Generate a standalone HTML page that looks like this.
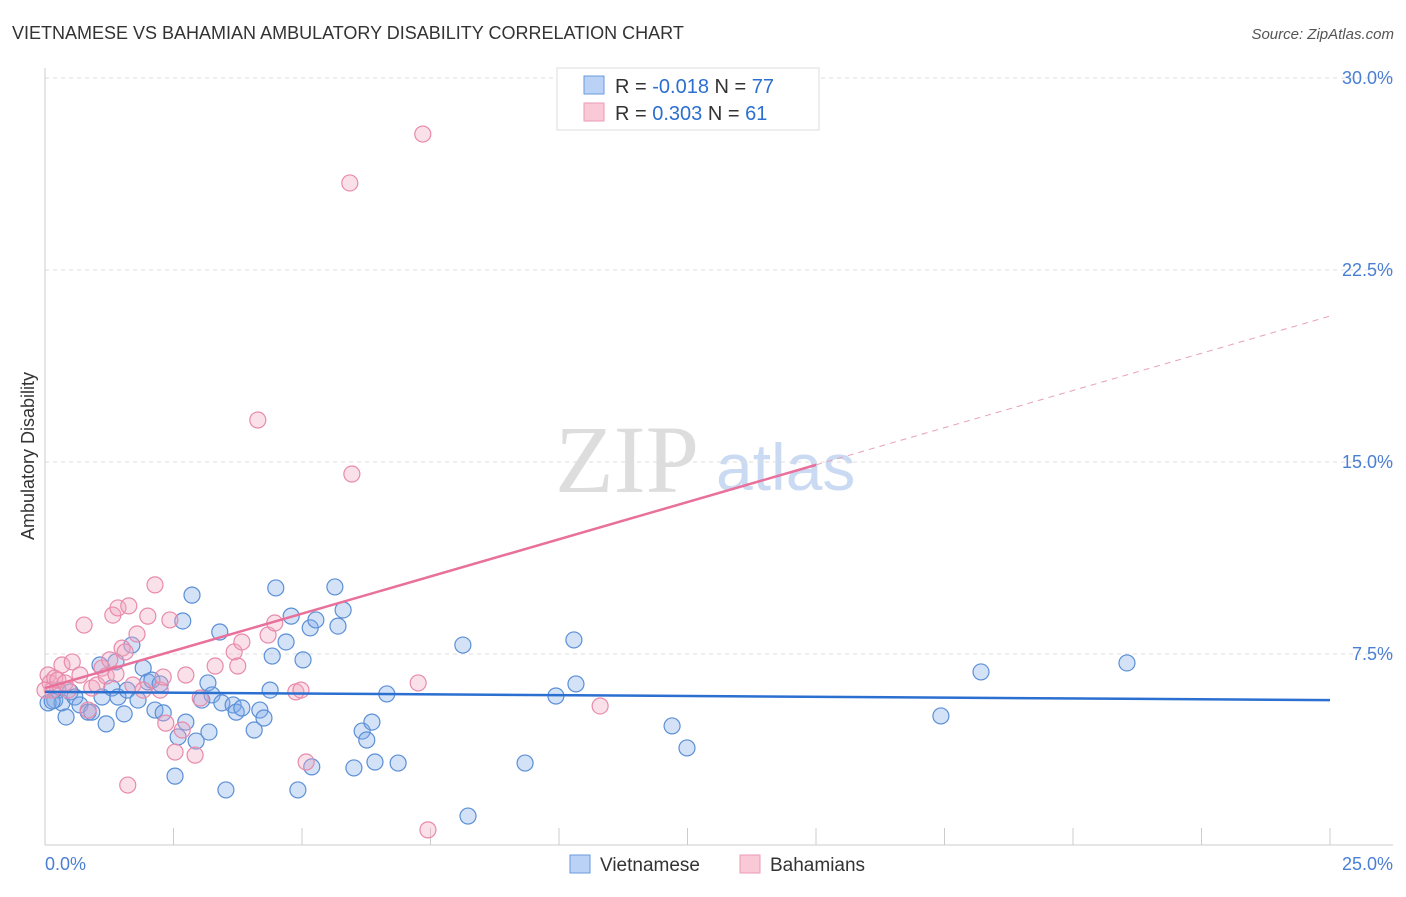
<!DOCTYPE html>
<html><head><meta charset="utf-8"><style>
body{margin:0;background:#fff;font-family:"Liberation Sans",sans-serif}
svg text{font-family:"Liberation Sans",sans-serif}
</style></head><body>
<svg id="chart" width="1406" height="892" xmlns="http://www.w3.org/2000/svg">
<text x="12" y="39" font-size="18" fill="#333">VIETNAMESE VS BAHAMIAN AMBULATORY DISABILITY CORRELATION CHART</text>
<text x="1394" y="39" font-size="15" fill="#555" font-style="italic" text-anchor="end">Source: ZipAtlas.com</text>
<text x="555" y="492" font-size="96" fill="#ddd" font-family="Liberation Serif" style="font-family:'Liberation Serif',serif">ZIP</text>
<text x="716" y="490" font-size="66" fill="#c9daf2">atlas</text>
<g id="grid"></g><g id="axes"></g><g id="marks"></g>
<text transform="translate(34,456) rotate(-90)" font-size="18" fill="#333" text-anchor="middle">Ambulatory Disability</text>
<g>
<rect x="557" y="68" width="262" height="62" fill="#fff" stroke="#ddd"/>
<rect x="584" y="76" width="20" height="18" fill="#b9d2f5" stroke="#6a9ae0"/>
<rect x="584" y="103" width="20" height="18" fill="#f9c9d8" stroke="#ec9ab5"/>
<text x="615" y="93" font-size="20" fill="#333">R = <tspan fill="#2b6fd0">-0.018</tspan>   N = <tspan fill="#2b6fd0">77</tspan></text>
<text x="615" y="120" font-size="20" fill="#333">R =  <tspan fill="#2b6fd0">0.303</tspan>   N =  <tspan fill="#2b6fd0">61</tspan></text>
</g>
<g>
<rect x="570" y="855" width="20" height="18" fill="#b9d2f5" stroke="#6a9ae0"/>
<text x="600" y="871" font-size="19" fill="#333">Vietnamese</text>
<rect x="740" y="855" width="20" height="18" fill="#f9c9d8" stroke="#ec9ab5"/>
<text x="770" y="871" font-size="19" fill="#333">Bahamians</text>
</g>
</svg>
<script>
const yTicks=[7.5,15,22.5,30];
const yTickLabels=["7.5%","15.0%","22.5%","30.0%"];
const xTicks=[0,2.5,5,7.5,10,12.5,15,17.5,20,22.5,25];
const blueX=[0.19,0.25,0.33,0.41,0.49,0.58,0.68,0.84,0.91,1.07,1.11,1.19,1.30,1.38,1.42,1.54,1.60,1.69,1.81,1.91,2.00,2.08,2.14,2.24,2.30,2.53,2.59,2.68,2.74,2.86,2.94,3.05,3.17,3.19,3.25,3.40,3.44,3.52,3.66,3.72,3.83,4.07,4.18,4.26,4.38,4.42,4.49,4.69,4.79,4.92,5.02,5.16,5.19,5.27,5.64,5.70,5.80,6.01,6.17,6.26,6.36,6.42,6.65,6.87,8.23,8.13,9.34,9.94,10.29,10.33,12.20,12.49,17.43,18.21,21.05,0.06,0.14];
const blueY=[5.70,6.09,5.59,5.04,6.02,5.82,5.51,5.23,5.23,7.07,5.82,4.77,6.17,7.19,5.82,5.16,6.09,7.85,5.70,6.95,6.41,6.48,5.31,6.33,5.20,2.73,4.26,8.79,4.84,9.80,4.10,5.70,6.37,4.45,5.90,8.36,5.59,2.19,5.51,5.23,5.39,4.53,5.31,5.00,6.09,7.42,10.08,7.97,8.98,2.19,7.27,8.52,3.09,8.83,10.12,8.59,9.22,3.05,4.49,4.14,4.84,3.28,5.94,3.24,1.17,7.85,3.24,5.86,8.05,6.33,4.69,3.83,5.08,6.80,7.15,5.59,5.66];
const pinkX=[0.06,0.10,0.14,0.19,0.25,0.33,0.39,0.45,0.53,0.68,0.76,0.84,0.91,1.01,1.11,1.19,1.26,1.32,1.38,1.42,1.50,1.56,1.61,1.63,1.71,1.79,1.91,2.00,2.14,2.24,2.30,2.35,2.43,2.53,2.67,2.74,2.92,3.02,3.31,3.68,3.75,3.83,4.14,4.34,4.47,4.88,4.98,5.08,5.93,5.97,7.26,7.35,7.45,10.80,0.0];
const pinkY=[6.68,6.37,6.09,6.56,6.48,7.07,6.37,6.09,7.19,6.68,8.63,5.31,6.17,6.29,6.95,6.64,7.27,9.02,6.72,9.30,7.73,7.58,2.38,9.38,6.29,8.28,6.09,8.98,10.20,6.09,6.60,4.80,8.83,3.67,4.53,6.68,3.55,5.78,7.03,7.58,7.03,7.97,16.64,8.24,8.71,6.02,6.09,3.28,25.90,14.53,6.37,27.81,0.63,5.47,6.09];
const blueTrend=[6.02,5.70];
const pinkTrend=[6.17,20.7];
const pinkSolidEnd=15;
const X0=45,X1=1330,Y0=846,YS=25.6;
const sx=v=>X0+(X1-X0)*v/25, sy=v=>Y0-v*YS;
const NS="http://www.w3.org/2000/svg";
function mk(p,t,a){const e=document.createElementNS(NS,t);for(const k in a)e.setAttribute(k,a[k]);document.getElementById(p).appendChild(e);return e;}
yTicks.forEach((t,i)=>{
 const l=mk('grid','line',{x1:X0,x2:1393,y1:sy(t),y2:sy(t),stroke:'#ddd','stroke-dasharray':'4,4'});
 
 
 const tx=mk('grid','text',{x:1393,y:sy(t)+6,'font-size':18,fill:'#4a7fd4','text-anchor':'end'});
 tx.textContent=yTickLabels[i];
 
 
});
let a=mk('axes','line',{x1:X0,x2:X0,y1:68,y2:845,stroke:'#ccc'});


a=mk('axes','line',{x1:X0,x2:1393,y1:845,y2:845,stroke:'#ccc'});


xTicks.forEach(t=>{const l=mk('axes','line',{x1:sx(t),x2:sx(t),y1:828,y2:845,stroke:'#ccc'});
 
 });
let t0=mk('axes','text',{x:45,y:870,'font-size':18,fill:'#4a7fd4'});t0.textContent='0.0%';


t0=mk('axes','text',{x:1393,y:870,'font-size':18,fill:'#4a7fd4','text-anchor':'end'});t0.textContent='25.0%';


blueX.forEach((x,i)=>{const c=mk('marks','circle',{cx:sx(x),cy:sy(blueY[i]),r:8,fill:'rgba(130,172,232,0.35)',stroke:'#5b8fd6','stroke-width':1.2});
 
 });
pinkX.forEach((x,i)=>{const c=mk('marks','circle',{cx:sx(x),cy:sy(pinkY[i]),r:8,fill:'rgba(242,165,192,0.35)',stroke:'#e88aab','stroke-width':1.2});
 
 });
let ln=mk('marks','line',{x1:sx(0),y1:sy(blueTrend[0]),x2:sx(25),y2:sy(blueTrend[1]),stroke:'#2b6fd0','stroke-width':2.5});


const pAt=v=>pinkTrend[0]+(pinkTrend[1]-pinkTrend[0])*v/25;
ln=mk('marks','line',{x1:sx(0),y1:sy(pinkTrend[0]),x2:sx(pinkSolidEnd),y2:sy(pAt(pinkSolidEnd)),stroke:'#e8709a','stroke-width':2.5});


ln=mk('marks','line',{x1:sx(pinkSolidEnd),y1:sy(pAt(pinkSolidEnd)),x2:sx(25),y2:sy(pinkTrend[1]),stroke:'#e8a0b8','stroke-width':1,'stroke-dasharray':'6,5'});


</script>
</body></html>
